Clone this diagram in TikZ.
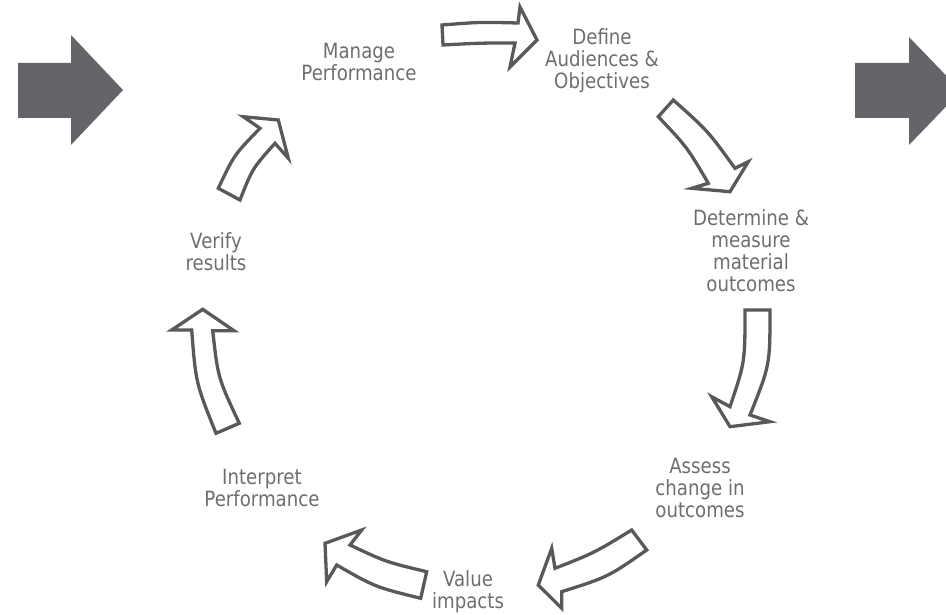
\documentclass[tikz,border=0pt]{standalone}
\usepackage{fontspec}
\newfontfamily\labelfont{DejaVu Sans}[FakeStretch=0.865]
\definecolor{txtgray}{HTML}{6D6E71}
\definecolor{arrowgray}{HTML}{58595B}
\definecolor{biggray}{HTML}{636569}
\begin{document}
\begin{tikzpicture}[x=1pt,y=-1pt,
  cyclelabel/.style={text=txtgray, align=center, inner sep=0pt,
    font=\labelfont\fontsize{21}{22}\selectfont},
  blockarrow/.style={draw=arrowgray, line width=3.3pt, fill=white, line join=miter},
  bigarrow/.style={fill=biggray, draw=none}]
\useasboundingbox (0,0) rectangle (946,615);
\clip (0,0) rectangle (946,615);

% entry and exit arrows at the sides
\fill[bigarrow] (18,63) -- (71,63) -- (71,35) -- (123,90) -- (71,145) -- (71,118) -- (18,118) -- cycle;
\fill[bigarrow] (855,63) -- (909,63) -- (909,37) -- (961,91) -- (909,145) -- (909,118) -- (855,118) -- cycle;

% stages of the cycle
\node[cyclelabel] (manage)    at (359,62)  {Manage\\Performance};
\node[cyclelabel] (define)    at (602,61)  {Define\\Audiences \&\\Objectives};
\node[cyclelabel] (determine) at (751,251) {Determine \&\\measure\\material\\outcomes};
\node[cyclelabel] (assess)    at (700,488) {Assess\\change in\\outcomes};
\node[cyclelabel] (value)     at (468,592) {Value\\impacts};
\node[cyclelabel] (interpret) at (262,488) {Interpret\\Performance};
\node[cyclelabel] (verify)    at (216,252) {Verify\\results};

% curved block arrows between the stages
\draw[blockarrow] (442,25) .. controls (480,22) .. (518,23) -- (520,7) -- (537,40)
  -- (510,67) -- (515,43) .. controls (480,43) .. (443,45) -- cycle;
\draw[blockarrow] (658.3,116.7) -- (673.3,100) .. controls (708,131) .. (735,168.3)
  -- (748.3,161.7) -- (730,191.7) -- (691.7,188.3) -- (708.3,183.3)
  .. controls (687,147) .. cycle;
\draw[blockarrow] (745,310) -- (770,310) .. controls (770,365) .. (750,415)
  -- (770,421.7) -- (730,426.7) -- (711.7,396.7) -- (730,406.7)
  .. controls (745,362) .. cycle;
\draw[blockarrow] (631.7,530) -- (646.7,550) .. controls (608,577) .. (561.7,591.7)
  -- (561.7,608.3) -- (538.3,585) -- (551.7,548.3) -- (555,568.3)
  .. controls (594,553) .. cycle;
\draw[blockarrow] (426.7,571.7) -- (420.7,598.3) .. controls (375,587) .. (336.7,565)
  -- (326.7,581.7) -- (325,543.3) -- (361.7,530) -- (350,545)
  .. controls (386,562) .. cycle;
\draw[blockarrow] (216,433.3) -- (239.3,423.3) .. controls (218,378) .. (212.7,330.7)
  -- (234,330.7) -- (202.7,309.3) -- (171.7,330) -- (191.7,330)
  .. controls (195.8,383) .. cycle;
\draw[blockarrow] (218.3,188.3) -- (240,200) .. controls (252.4,168.5) .. (275,143.3)
  -- (288.3,158.3) -- (278.3,120) -- (243.3,116.7) -- (260,128.3)
  .. controls (234,155) .. cycle;
\end{tikzpicture}
\end{document}
